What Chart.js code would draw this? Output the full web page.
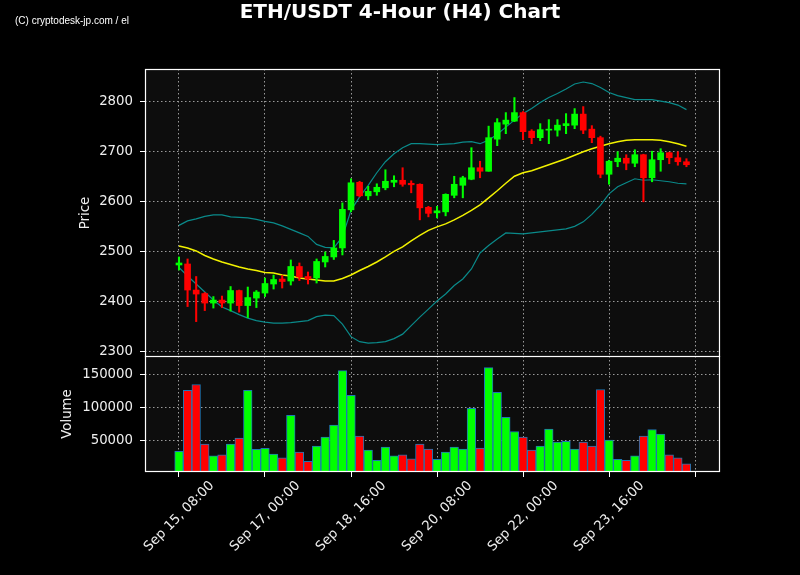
<!DOCTYPE html>
<html>
<head>
<meta charset="utf-8">
<script src="https://cdn.jsdelivr.net/npm/chart.js@4.4.0/dist/chart.umd.min.js"></script>
<style>
  html, body { margin: 0; padding: 0; background: #000; }
  #wrap { position: relative; width: 800px; height: 575px; overflow: hidden; background: #000; }
  canvas { position: absolute; left: 0; }
  #title { position: absolute; left: 0; top: 0; width: 800px; text-align: center; color: #fff;
           font: bold 20px "DejaVu Sans", sans-serif; line-height: 22px; }
  #wm { position: absolute; left: 15px; top: 14px; color: #fff;
        font: 10px "Liberation Sans Narrow", "Liberation Sans", sans-serif; line-height: 14px; }
</style>
</head>
<body>
<div id="wrap">
  <canvas id="price" width="800" height="357" style="top:0"></canvas>
  <canvas id="vol" width="800" height="219" style="top:356px"></canvas>
  <div id="title">ETH/USDT 4-Hour (H4) Chart</div>
  <div id="wm">(C) cryptodesk-jp.com / el</div>
</div>
<script>
// ---- data ----
const opens  = [2473,2475,2423,2416,2397,2403,2397,2422,2392,2407,
                2417,2435,2445,2441,2470,2450,2447,2479,2489,2507,
                2583,2638,2611,2619,2627,2638,2642,2636,2634,2588,
                2577,2579,2612,2632,2644,2667,2660,2724,2754,2760,
                2777,2740,2727,2742,2742,2751,2752,2774,2744,2727,
                2654,2679,2686,2676,2693,2647,2683,2697,2687,2679];
const highs  = [2489,2485,2450,2418,2410,2411,2430,2423,2429,2422,
                2447,2453,2452,2483,2477,2459,2485,2499,2522,2597,
                2645,2640,2630,2635,2663,2651,2667,2641,2635,2590,
                2590,2615,2650,2650,2707,2680,2750,2765,2777,2807,
                2779,2743,2755,2763,2763,2775,2785,2789,2751,2730,
                2682,2699,2693,2703,2694,2700,2705,2698,2699,2685];
const lows   = [2463,2390,2360,2382,2387,2388,2381,2379,2368,2388,
                2410,2425,2427,2433,2442,2435,2437,2469,2484,2493,
                2579,2609,2603,2612,2623,2629,2630,2617,2563,2569,
                2567,2571,2607,2607,2643,2647,2660,2711,2735,2759,
                2723,2715,2721,2715,2730,2735,2745,2735,2717,2647,
                2634,2669,2663,2669,2599,2639,2660,2675,2672,2669];
const closes = [2477,2423,2415,2397,2403,2397,2422,2392,2408,2419,
                2436,2444,2440,2470,2449,2445,2480,2490,2507,2584,
                2637,2611,2620,2628,2640,2642,2634,2633,2587,2576,
                2581,2614,2634,2647,2667,2660,2727,2757,2762,2777,
                2739,2727,2743,2744,2752,2755,2774,2742,2727,2654,
                2680,2686,2676,2693,2647,2683,2697,2687,2679,2673];
const volumes = [34000,125700,134600,45000,27200,28700,45000,54000,125700,37000,
                 38500,30100,24200,88300,33100,19100,42100,55600,73400,155500,
                 118200,57000,36100,20600,40600,27200,28700,22700,45000,37600,
                 22100,33100,40600,37600,98800,39100,160000,122700,85400,63900,
                 55600,36100,42100,67400,48000,49000,37600,48000,42100,127100,
                 51000,22100,20600,27200,57000,66900,60000,28700,24200,15200];
const bbUpper = [2552,2561,2565,2570,2573,2573,2569,2568,2567,2564,
                 2560,2557,2551,2544,2537,2530,2514,2508,2507,2529,
                 2582,2609,2632,2657,2679,2695,2707,2715,2715,2714,
                 2713,2714,2715,2718,2719,2715,2722,2734,2748,2762,
                 2775,2785,2797,2807,2815,2824,2834,2838,2835,2827,
                 2817,2811,2807,2803,2803,2803,2800,2797,2792,2783];
const bbMiddle = [2511,2507,2501,2492,2485,2479,2474,2469,2465,2462,
                  2458,2457,2453,2451,2447,2445,2443,2441,2441,2446,
                  2453,2462,2470,2479,2489,2500,2509,2521,2532,2542,
                  2549,2555,2563,2572,2582,2593,2607,2621,2636,2650,
                  2657,2661,2667,2673,2679,2685,2692,2699,2705,2710,
                  2715,2719,2722,2723,2723,2723,2722,2719,2715,2710];
const bbLower = [2468,2451,2435,2419,2403,2389,2382,2374,2367,2362,
                 2359,2357,2357,2358,2360,2362,2370,2373,2372,2355,
                 2330,2320,2317,2318,2320,2326,2335,2352,2369,2385,
                 2401,2415,2432,2445,2465,2497,2512,2525,2537,2536,
                 2535,2537,2539,2541,2543,2545,2550,2559,2574,2592,
                 2615,2629,2637,2645,2642,2643,2641,2639,2636,2635];
const tickPositions = [0, 10, 20, 30, 40, 50, 60];
const tickLabels = ["Sep 15, 08:00","Sep 17, 00:00","Sep 18, 16:00","Sep 20, 08:00","Sep 22, 00:00","Sep 23, 16:00",""];
const priceTicks = [2300, 2400, 2500, 2600, 2700, 2800];
const volumeTicks = [50000, 100000, 150000];

// ---- styling ----
const UP = '#00ff00', DOWN = '#ff0000';
const TXT = '#eeeeee';
const FONT = { family: 'DejaVu Sans', size: 13.3 };
const GRID = '#9a9a9a';
const XMIN = -3.95, XMAX = 62.9;

const dirColor = closes.map((c, i) => c >= opens[i] ? UP : DOWN);
const pts = arr => arr.map((v, i) => ({ x: i, y: v }));

const framePlugin = {
  id: 'frame',
  beforeDraw(chart) {
    const a = chart.chartArea, ctx = chart.ctx;
    ctx.save(); ctx.fillStyle = '#0d0d0d';
    ctx.fillRect(a.left, a.top, a.right - a.left, a.bottom - a.top);
    ctx.restore();
  },
  afterDraw(chart) {
    const a = chart.chartArea, ctx = chart.ctx;
    ctx.save(); ctx.strokeStyle = '#ffffff'; ctx.lineWidth = 1.2;
    ctx.strokeRect(Math.round(a.left) + 0.5, Math.round(a.top) + 0.5,
                   Math.round(a.right - a.left) - 1, Math.round(a.bottom - a.top) - 1);
    ctx.restore();
  }
};

function zeroPad(s) { s.paddingTop = 0; s.paddingBottom = 0; s.paddingLeft = 0; s.paddingRight = 0; }

function xScale(showLabels) {
  return {
    type: 'linear', min: XMIN, max: XMAX, offset: false,
    afterBuildTicks: s => { s.ticks = tickPositions.map(v => ({ value: v })); },
    afterFit: s => { s.height = showLabels ? 103 : 0; zeroPad(s); },
    grid: { offset: false, color: GRID, lineWidth: 1, drawTicks: showLabels, tickLength: 5, tickColor: '#ffffff', tickBorderDash: [] },
    border: { display: false, dash: [1.5, 2.5] },
    ticks: {
      display: showLabels, autoSkip: false, maxRotation: 45, minRotation: 45, padding: 1, labelOffset: 33,
      color: TXT, font: FONT,
      callback: v => { const k = tickPositions.indexOf(v); return k >= 0 ? tickLabels[k] : ''; }
    }
  };
}

function yScale(min, max, ticksArr, title, width) {
  return {
    min, max,
    afterBuildTicks: s => { s.ticks = ticksArr.map(v => ({ value: v })); },
    afterFit: s => { s.width = width; zeroPad(s); },
    grid: { color: GRID, lineWidth: 1, tickLength: 5, tickColor: '#ffffff', tickBorderDash: [] },
    border: { display: false, dash: [1.5, 2.5] },
    ticks: { color: TXT, font: FONT, padding: 7, callback: v => String(v) },
    title: { display: true, text: title, color: TXT, font: FONT, padding: 0 }
  };
}

const common = {
  responsive: false, animation: false, devicePixelRatio: 1,
  plugins: { legend: { display: false }, tooltip: { enabled: false }, title: { display: false } },
  events: []
};

new Chart(document.getElementById('price'), {
  type: 'bar',
  data: {
    datasets: [
      { type: 'line', data: pts(bbUpper), borderColor: '#0a8a8a', borderWidth: 1.2, pointRadius: 0, tension: 0, order: 3 },
      { type: 'line', data: pts(bbLower), borderColor: '#0a8a8a', borderWidth: 1.2, pointRadius: 0, tension: 0, order: 3 },
      { type: 'line', data: pts(bbMiddle), borderColor: '#f2f200', borderWidth: 1.5, pointRadius: 0, tension: 0, order: 3 },
      { type: 'bar', data: lows.map((l, i) => ({ x: i, y: [l, highs[i]] })), backgroundColor: dirColor,
        barThickness: 1.4, grouped: false, borderWidth: 0, order: 2 },
      { type: 'bar', data: opens.map((o, i) => ({ x: i, y: [o, closes[i]] })), backgroundColor: dirColor,
        barThickness: 6, grouped: false, borderWidth: 0, order: 1 }
    ]
  },
  options: Object.assign({}, common, {
    layout: { padding: { left: 78, right: 80, top: 69, bottom: 0 } },
    scales: { x: xScale(false), y: yScale(2289.4, 2864, priceTicks, 'Price', 67) }
  }),
  plugins: [framePlugin]
});

new Chart(document.getElementById('vol'), {
  type: 'bar',
  data: {
    datasets: [
      { data: volumes.map((v, i) => ({ x: i, y: v })), backgroundColor: dirColor,
        borderColor: '#1f77b4', borderWidth: 1, borderSkipped: false,
        barPercentage: 1, categoryPercentage: 1, grouped: false }
    ]
  },
  options: Object.assign({}, common, {
    layout: { padding: { left: 60, right: 80, top: 0, bottom: 0 } },
    scales: { x: xScale(true), y: yScale(3000, 177500, volumeTicks, 'Volume', 85) }
  }),
  plugins: [framePlugin]
});
</script>
</body>
</html>
